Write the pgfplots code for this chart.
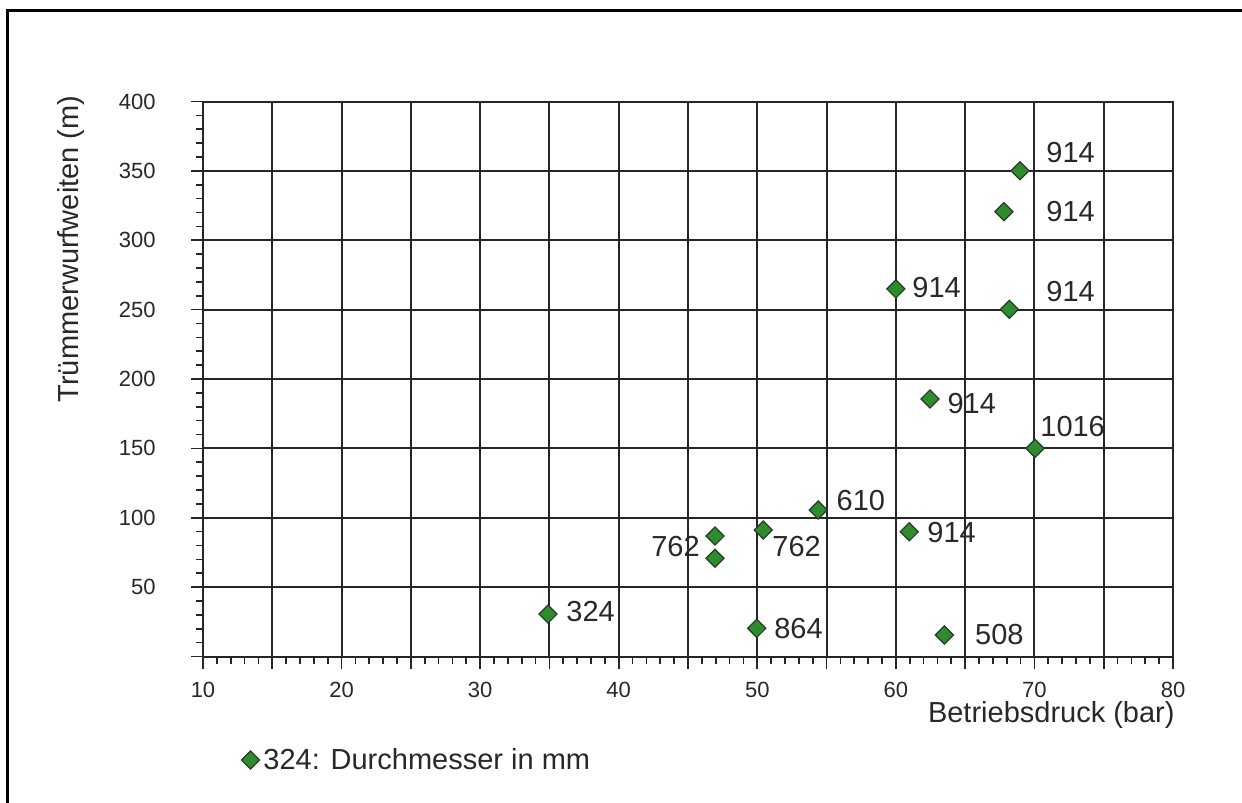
\documentclass[border=0pt]{standalone}
\usepackage{fontspec}
\setmainfont{Liberation Sans}
\usepackage{pgfplots}
\pgfplotsset{compat=1.18}
\definecolor{mkgreen}{RGB}{46,140,46}
\definecolor{mkedge}{RGB}{35,60,35}
\definecolor{txt}{RGB}{40,40,40}
\newcommand{\lbl}{\fontsize{14.5}{17}\selectfont}
\begin{document}
\begin{tikzpicture}
\path[use as bounding box] (-101.5pt,-73.25pt) rectangle (519.5pt,328.25pt);
\draw[black, line width=1.5pt] (-97.5pt,-73.25pt) -- (-97.5pt,322.75pt) -- (519.5pt,322.75pt);
\begin{axis}[
  at={(0,0)}, anchor=south west,
  scale only axis, width=485pt, height=277.5pt,
  xmin=10, xmax=80, ymin=0, ymax=400,
  xtick={10,15,...,80},
  xticklabels={10,,20,,30,,40,,50,,60,,70,,80},
  ytick={0,50,...,400},
  yticklabels={,50,100,150,200,250,300,350,400},
  minor x tick num=4, minor y tick num=4,
  xtick pos=bottom, ytick pos=left,
  tick align=outside, major tick length=6pt, minor tick length=3.5pt,
  grid=major, major grid style={black!85, line width=1pt},
  axis line style={black!85, line width=1pt},
  tick style={black!85, line width=0.8pt},
  /pgf/number format/assume math mode=true,
  ticklabel style={font=\fontsize{11}{13}\selectfont, text=txt, inner sep=0pt},
  yticklabel shift=17.5pt,
  xticklabel shift=6.5pt,
  xlabel={Betriebsdruck (bar)},
  xlabel style={at={(rel axis cs:1,0)}, anchor=east, yshift=-29.25pt, xshift=1pt, inner sep=0pt, font=\lbl, text=txt},
  ylabel={Trümmerwurfweiten (m)},
  ylabel style={at={(axis description cs:-0.1361,0.7342)}, anchor=center, inner sep=0pt, font=\lbl, text=txt},
  legend style={at={(rel axis cs:0,0)}, anchor=west, xshift=19pt, yshift=-51.75pt, draw=none, fill=none, inner sep=0pt, font=\lbl, text=txt},
  legend image code/.code={\draw[mark repeat=2,mark phase=2] plot coordinates {(0cm,0cm)(0.15cm,0cm)(0.3cm,0cm)};},
  clip=false,
]
\addplot[only marks, mark=square*, mark size=3.2pt, mark options={rotate=45, fill=mkgreen, draw=mkedge, line width=0.6pt}] coordinates {
  (34.9,30.6)
  (46.95,86.8)
  (46.95,70.8)
  (50.43,91.2)
  (54.4,105.6)
  (49.96,20.3)
  (60.97,89.9)
  (63.5,15.5)
  (62.46,185.6)
  (70.04,150)
  (60.0,264.9)
  (68.19,250.2)
  (67.8,320.6)
  (68.96,350.1)
};
\addlegendentry{324: Durchmesser in mm}
\begin{scope}[every node/.style={font=\lbl, text=txt, inner sep=0pt, anchor=west}]
\node at (axis cs:36.2,32.1) {324};
\node[anchor=east] at (axis cs:45.87,79.0) {762};
\node at (axis cs:51.06,79.5) {762};
\node at (axis cs:55.7,112.5) {610};
\node at (axis cs:51.2,20.5) {864};
\node at (axis cs:62.25,89) {914};
\node at (axis cs:65.7,15.5) {508};
\node at (axis cs:63.7,182) {914};
\node at (axis cs:70.4,166.1) {1016};
\node at (axis cs:61.17,265.6) {914};
\node at (axis cs:70.84,262.7) {914};
\node at (axis cs:70.84,320.4) {914};
\node at (axis cs:70.84,362.9) {914};
\end{scope}
\end{axis}
\end{tikzpicture}
\end{document}
